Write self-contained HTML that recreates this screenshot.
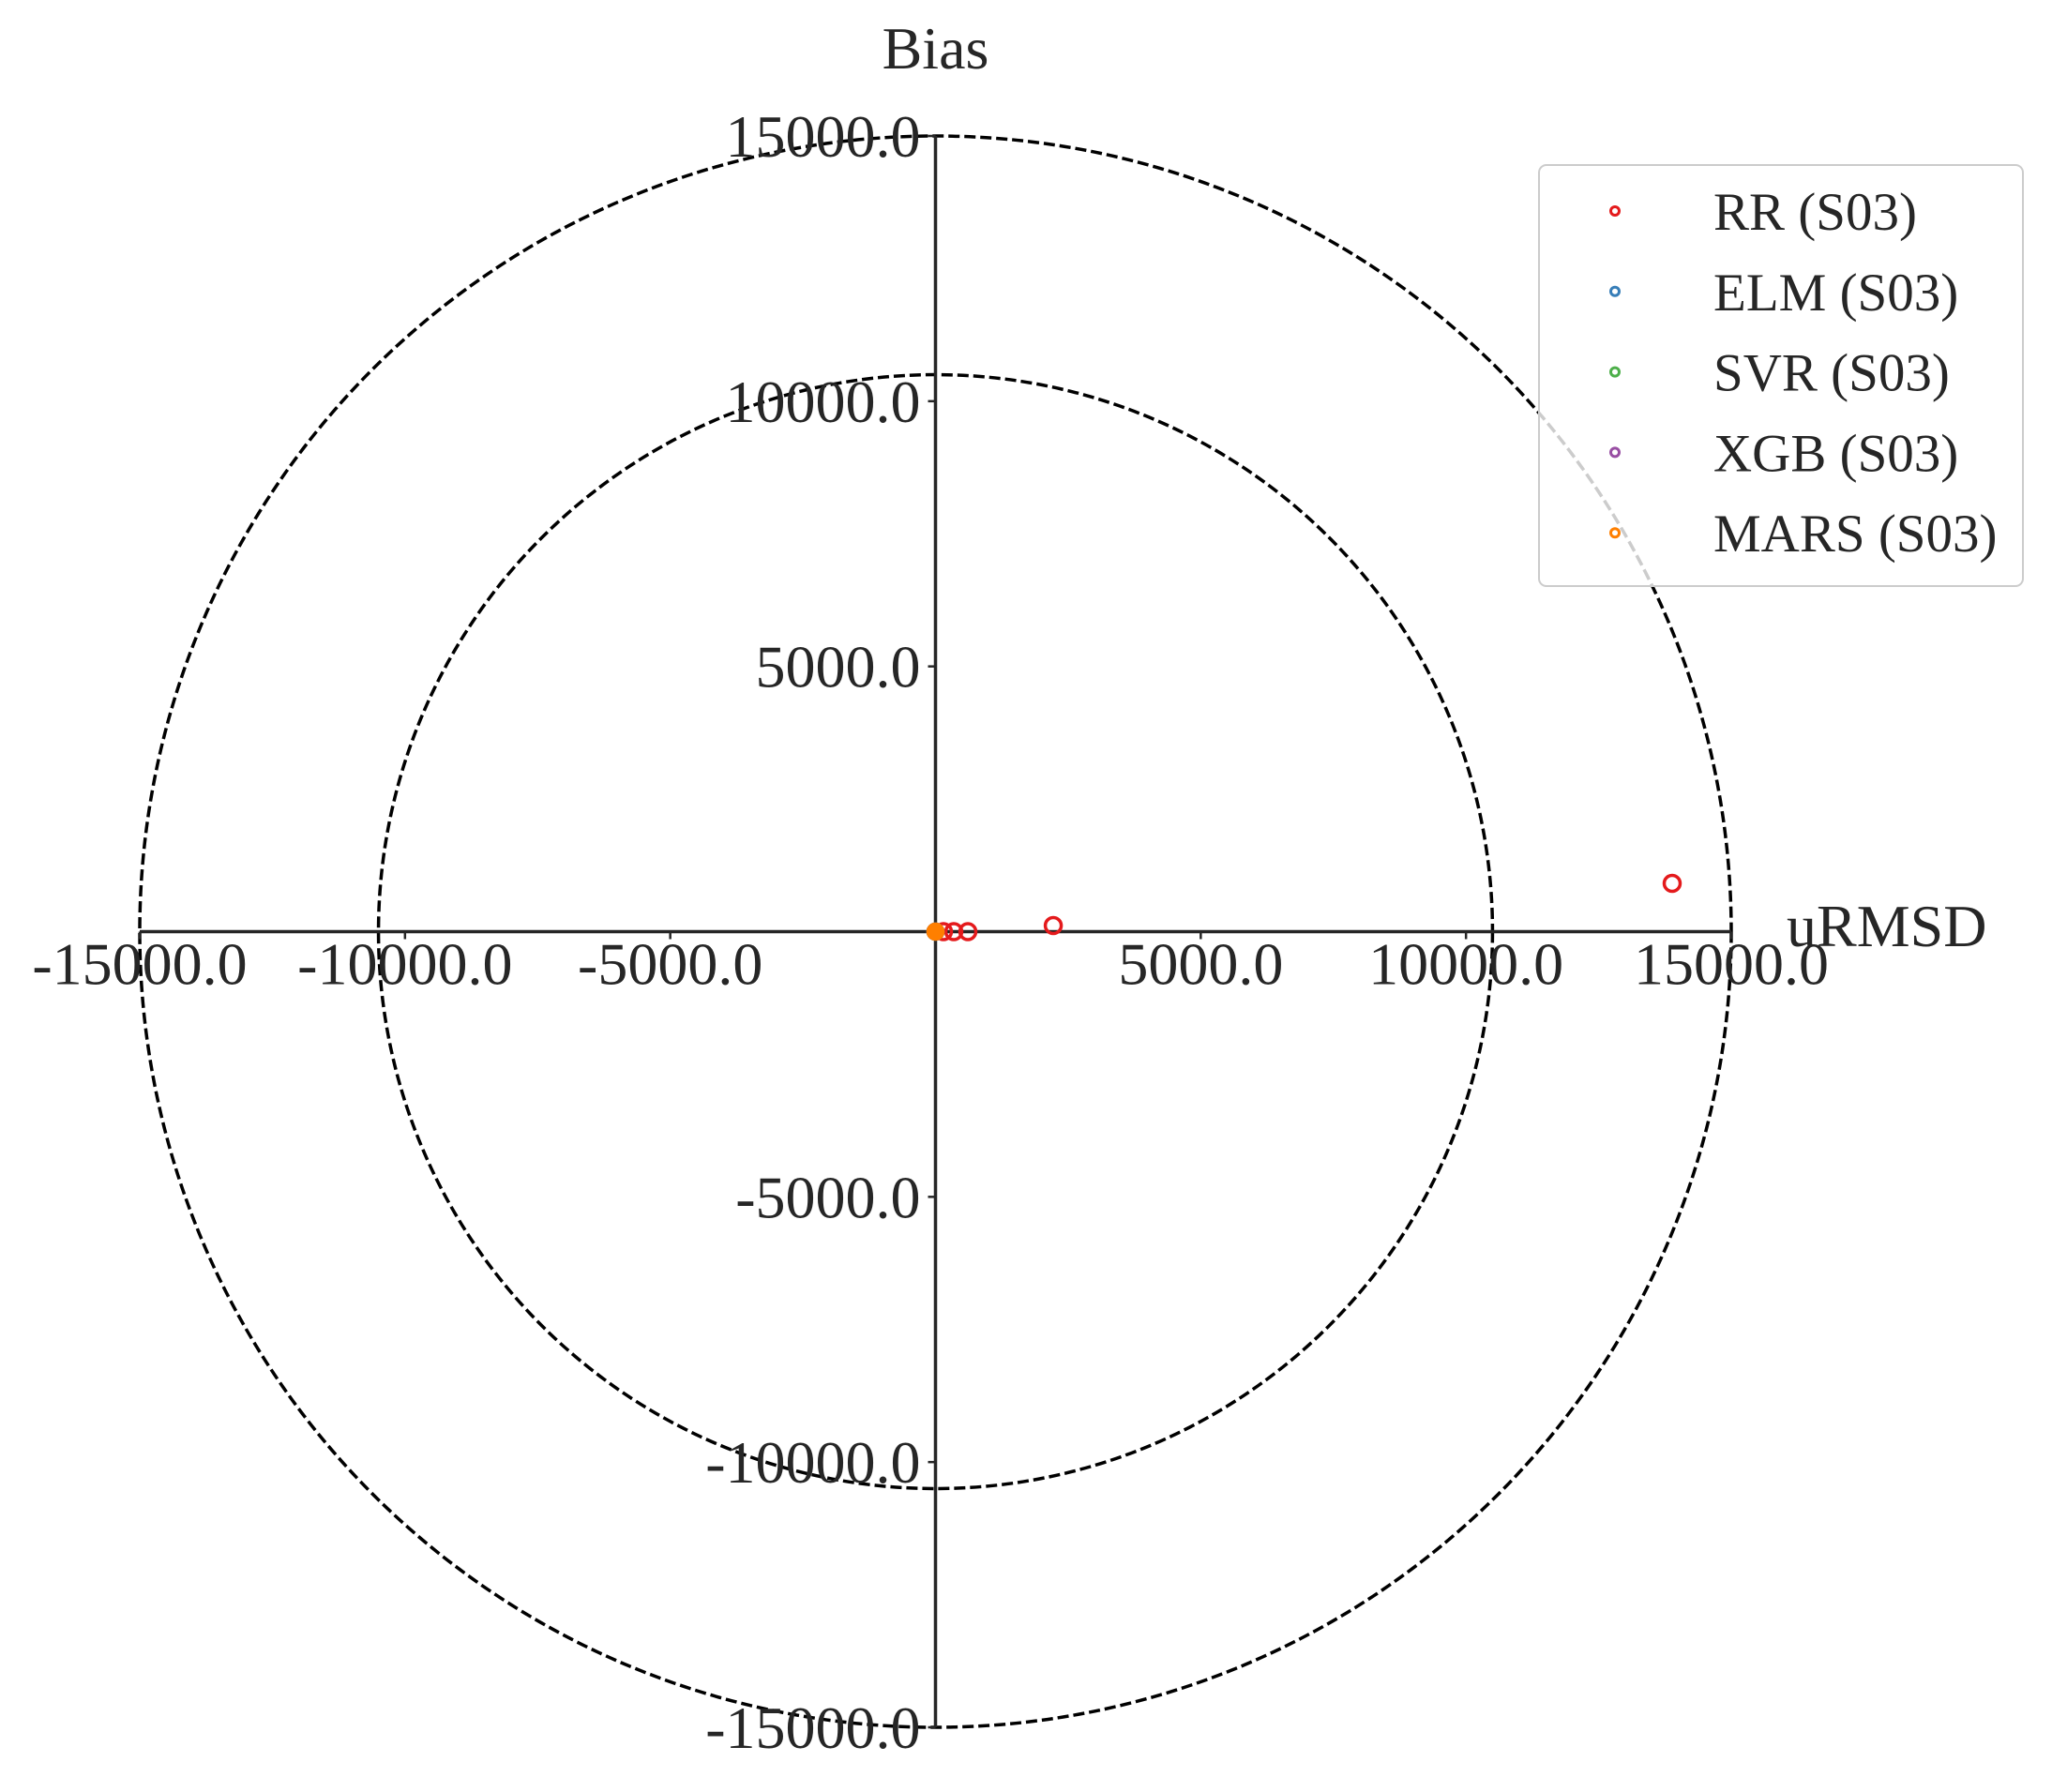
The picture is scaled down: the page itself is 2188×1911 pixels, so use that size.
<!DOCTYPE html>
<html><head><meta charset="utf-8"><style>
body{margin:0;background:#fff}
svg{display:block;font-family:"Liberation Serif",serif;fill:#262626}
</style></head><body>
<svg id="chart" width="2188" height="1911" viewBox="0 0 2188 1911">
<g id="grid"></g><g id="axes"></g><g id="pts"></g><g id="legend"></g>
</svg>
<script>
const ticks=[-15000,-10000,-5000,5000,10000,15000];
const tickLabels=["-15000.0","-10000.0","-5000.0","5000.0","10000.0","15000.0"];
const circleRadii=[10500,15000];
const seriesNames=["RR (S03)","ELM (S03)","SVR (S03)","XGB (S03)","MARS (S03)"];
const seriesColors=["#e41a1c","#377eb8","#4daf4a","#984ea3","#ff7f00"];
const rrX=[13886,2220,610,345,150];
const rrY=[910,115,0,0,0];
const elmX=[0];const elmY=[0];
const svrX=[0];const svrY=[0];
const xgbX=[0];const xgbY=[0];
const marsX=[0];const marsY=[0];
const allX=[rrX,elmX,svrX,xgbX,marsX];
const allY=[rrY,elmY,svrY,xgbY,marsY];

const NS="http://www.w3.org/2000/svg";
const cx=997.5,cy=993.5,R=848.5,MAX=15000;
const sx=v=>cx+v/MAX*R, sy=v=>cy-v/MAX*R;
function mk(tag,attrs,parent,text){const e=document.createElementNS(NS,tag);for(const k in attrs)e.setAttribute(k,attrs[k]);if(text!==undefined)e.textContent=text;parent.appendChild(e);return e;}
const grid=document.getElementById('grid'),axes=document.getElementById('axes'),pts=document.getElementById('pts'),leg=document.getElementById('legend');
circleRadii.forEach((r,i)=>{
 const c=mk('circle',{cx:cx,cy:cy,r:sx(r)-cx,fill:'none',stroke:'#000','stroke-width':3.5,'stroke-dasharray':'12,5'},grid);
 
 
});
let l=mk('line',{x1:sx(-MAX),y1:cy,x2:sx(MAX),y2:cy,stroke:'#262626','stroke-width':3.5},axes);


l=mk('line',{x1:cx,y1:sy(MAX),x2:cx,y2:sy(-MAX),stroke:'#262626','stroke-width':3.5},axes);


ticks.forEach((t,i)=>{
 let tx=mk('text',{x:sx(t),y:cy+56,'text-anchor':'middle','font-size':64},axes,tickLabels[i]);
 
 
 let ty=mk('text',{x:cx-16,y:sy(t)+22,'text-anchor':'end','font-size':64},axes,tickLabels[i]);
 
 
 mk('line',{x1:sx(t),y1:cy,x2:sx(t),y2:cy+8,stroke:'#262626','stroke-width':2.5},axes);
 mk('line',{x1:cx-8,y1:sy(t),x2:cx,y2:sy(t),stroke:'#262626','stroke-width':2.5},axes);
});
let t=mk('text',{x:cx,y:73,'text-anchor':'middle','font-size':64},axes,'Bias');


t=mk('text',{x:1905,y:1009,'font-size':64},axes,'uRMSD');


for(let s=0;s<allX.length;s++){
 allX[s].forEach((x,j)=>{
  const isRR=s===0;
  const c=mk('circle',{cx:sx(x),cy:sy(allY[s][j]),r:isRR?8.5:8,fill:isRR?'none':seriesColors[s],stroke:seriesColors[s],'stroke-width':3.5},pts);
  
  
 });
}
const box=mk('rect',{x:1641,y:176,width:516,height:449,rx:8,fill:'#fff','fill-opacity':0.8,stroke:'#ccc','stroke-width':2},leg);


seriesNames.forEach((n,i)=>{
 const y=225+i*85.8;
 const g=mk('g',{},leg);
 
 
 mk('circle',{cx:1722,cy:y,r:4.5,fill:'none',stroke:seriesColors[i],'stroke-width':3},g);
 mk('text',{x:1827,y:y+20,'font-size':57},g,n);
});
</script>
</body></html>
